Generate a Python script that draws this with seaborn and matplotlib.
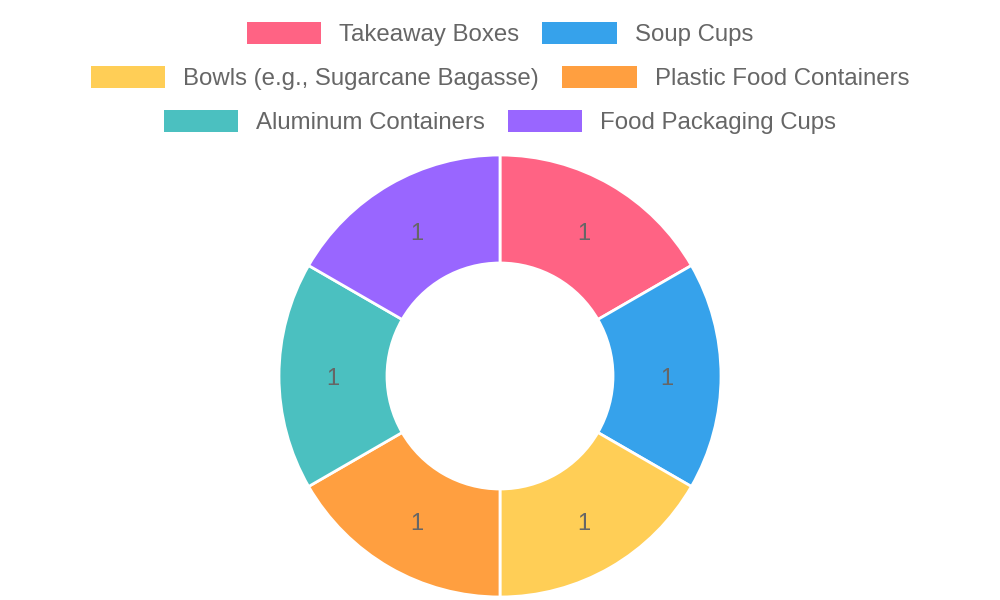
import matplotlib
matplotlib.use("Agg")
import matplotlib.pyplot as plt
import seaborn as sns
import numpy as np
from matplotlib.patches import Patch

categories = ["Takeaway Boxes", "Soup Cups", "Bowls (e.g., Sugarcane Bagasse)",
              "Plastic Food Containers", "Aluminum Containers", "Food Packaging Cups"]
values = [1, 1, 1, 1, 1, 1]
colors = ["#FF6384", "#36A2EB", "#FFCE56", "#FF9F40", "#4BC0C0", "#9966FF"]

sns.set_theme(style="white")
plt.rcParams['font.family'] = ['Liberation Sans', 'DejaVu Sans']

fig = plt.figure(figsize=(10, 6), dpi=100)
cx, cy, R = 500, 376, 221
ax = fig.add_axes([(cx - R) / 1000, (600 - cy - R) / 600, 2 * R / 1000, 2 * R / 600])
palette = sns.color_palette(colors)

wedges, texts = ax.pie(values, colors=palette, startangle=90, counterclock=False,
                       radius=1, labels=[str(v) for v in values], labeldistance=None,
                       wedgeprops=dict(width=1 - 113 / 221, edgecolor="white", linewidth=2))
mid = (1 + 113 / 221) / 2
total = sum(values)
ang = 90.0
for v in values:
    a = ang - 360.0 * v / total / 2
    ax.text(mid * np.cos(np.radians(a)), mid * np.sin(np.radians(a)) - 3 / R, str(v),
            ha="center", va="center", fontsize=17, color="#666666")
    ang -= 360.0 * v / total
ax.set_xlim(-1, 1)
ax.set_ylim(-1, 1)
ax.set_aspect("equal")
ax.axis("off")

rows = [(0, 1), (2, 3), (4, 5)]
ys = [34, 78, 122]
for (i, j), y in zip(rows, ys):
    handles = [Patch(facecolor=colors[k], edgecolor="white", linewidth=0) for k in (i, j)]
    leg = fig.legend(handles, [categories[i], categories[j]], loc="center",
                     bbox_to_anchor=(0.5, 1 - y / 600), ncol=2, frameon=False,
                     fontsize=17.3, handlelength=3.1, handleheight=1.0,
                     handletextpad=0.75, columnspacing=0.95, borderpad=0, borderaxespad=0)
    for t in leg.get_texts():
        t.set_color("#666666")

fig.savefig("out.png", dpi=100)
